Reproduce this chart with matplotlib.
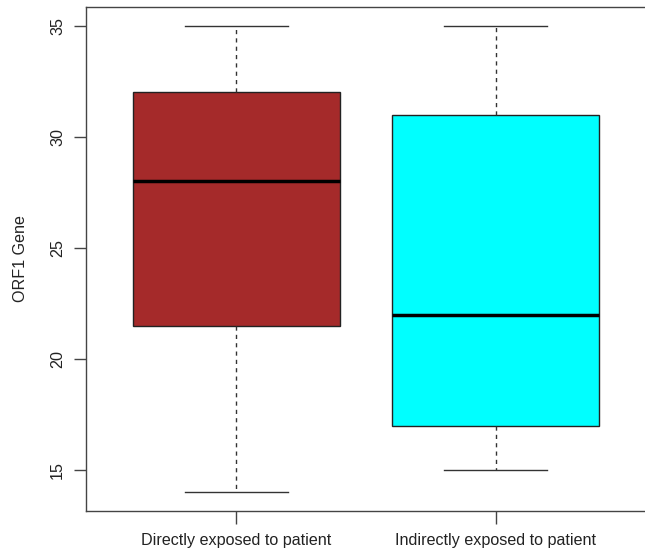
import matplotlib
matplotlib.use("Agg")
import matplotlib.pyplot as plt

plt.rcParams['font.family'] = ['Liberation Sans', 'DejaVu Sans']

# Five-number summaries of ORF1 gene Ct values per exposure group
groups = ["Directly exposed to patient", "Indirectly exposed to patient"]
whisker_low = [14, 15]
q1 = [21.5, 17]
median = [28, 22]
q3 = [32, 31]
whisker_high = [35, 35]
colors = ["#A52A2A", "#00FFFF"]

stats = []
for i, g in enumerate(groups):
    stats.append(dict(label=g, whislo=whisker_low[i], q1=q1[i], med=median[i],
                      q3=q3[i], whishi=whisker_high[i], fliers=[]))

fig = plt.figure(figsize=(6.45, 5.54), dpi=100)
ax = fig.add_axes([86/645, 43/554, 560/645, 504/554])

line_col = "#222222"
bp = ax.bxp(stats, positions=[1, 2], widths=0.8, patch_artist=True,
            showfliers=False,
            boxprops=dict(edgecolor=line_col, linewidth=1),
            medianprops=dict(color="black", linewidth=2.5),
            whiskerprops=dict(color="#333333", linewidth=1, linestyle=(0, (3, 3))),
            capprops=dict(color="#333333", linewidth=1),
            capwidths=0.4)
for patch, c in zip(bp['boxes'], colors):
    patch.set_facecolor(c)

ax.set_xlim(0.42, 2.58)
ax.set_ylim(13.16, 35.84)
ax.set_yticks([15, 20, 25, 30, 35])
ax.set_xticks([1, 2])
ax.set_xticklabels(groups)
ax.tick_params(axis='both', direction='out', length=9, width=1, color="#444444",
               labelsize=11.6, labelcolor="#222222")
ax.tick_params(axis='x', pad=7)
ax.tick_params(axis='y', pad=6)
for lab in ax.get_yticklabels():
    lab.set_rotation(90)
    lab.set_va('center')
for s in ax.spines.values():
    s.set_color("#444444")
    s.set_linewidth(1)
ax.set_ylabel("ORF1 Gene", fontsize=11.6, color="#222222", labelpad=16)

fig.savefig("out.png", dpi=100)
